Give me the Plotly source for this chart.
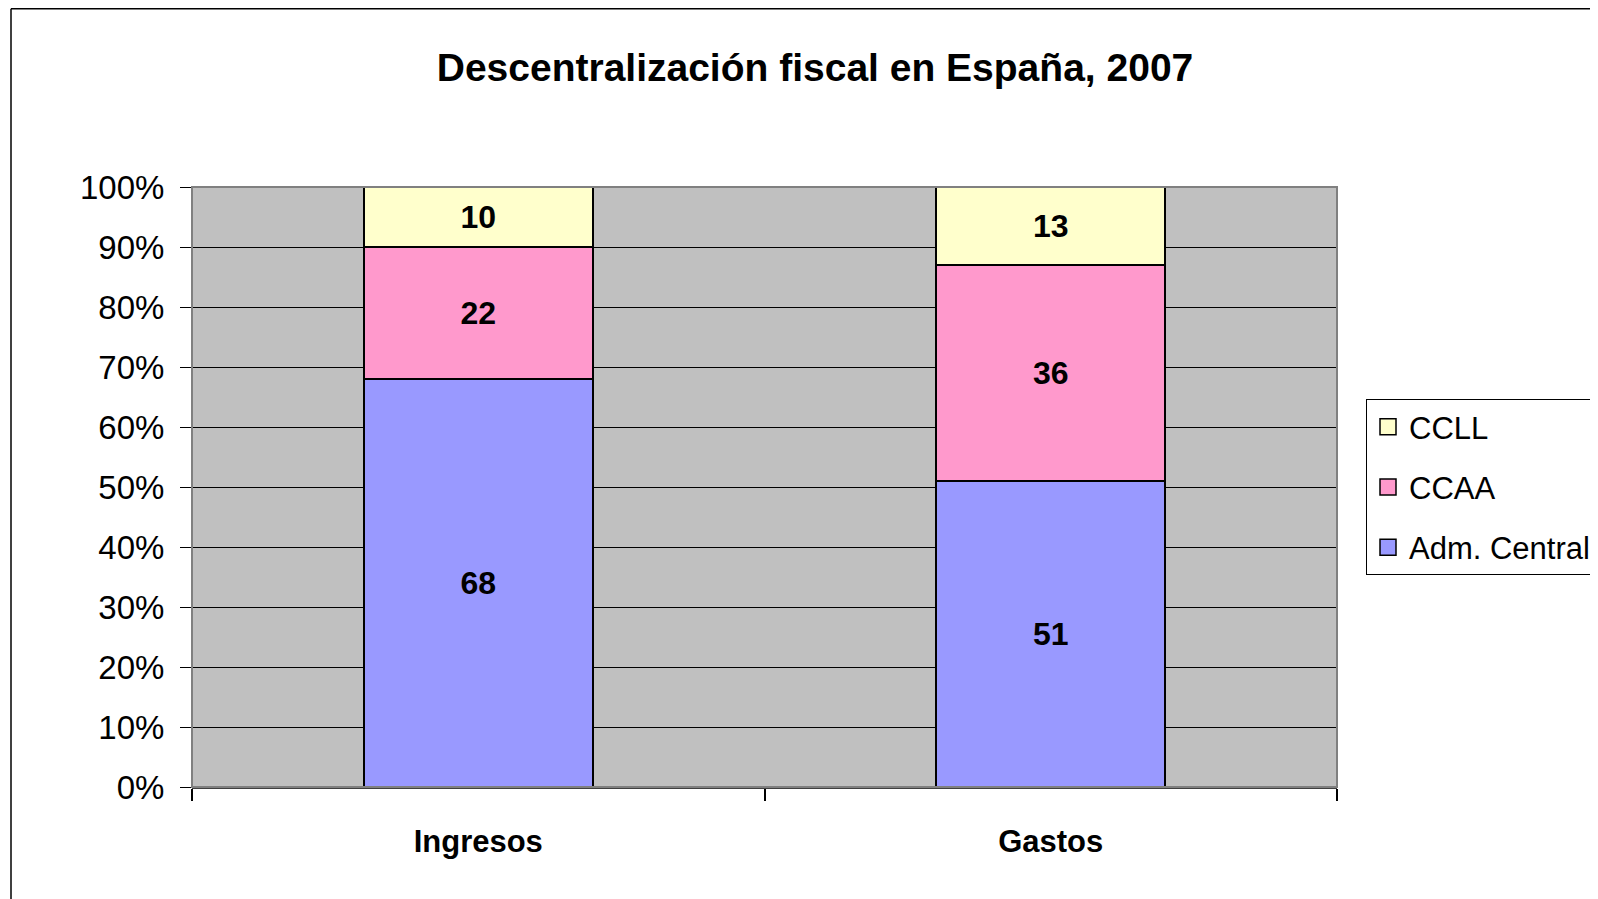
import plotly.graph_objects as go

categories = ["Ingresos", "Gastos"]
adm_central = [68, 51]
ccaa = [22, 36]
ccll = [10, 13]
series_names = ["Adm. Central", "CCAA", "CCLL"]
series_colors = ["#9999FF", "#FF99CC", "#FFFFCC"]
y_ticks = [0, 10, 20, 30, 40, 50, 60, 70, 80, 90, 100]
y_tick_labels = [f"{v}%" for v in y_ticks]

FONT = "Liberation Sans, Arial, sans-serif"

# page body has an 8px margin: work in figure pixel coordinates
O = 8
W, H = 1598 - O, 899 - O
L, R, T, B = 192 - O, 1337 - O, 186.5 - O, 787 - O
pw, ph = R - L, B - T


def px(x):
    return (x - O - L) / pw


def py(y):
    return (B - (y - O)) / ph


fig = go.Figure()
for name, vals, col in zip(series_names, [adm_central, ccaa, ccll], series_colors):
    fig.add_trace(go.Bar(
        x=categories, y=vals, name=name,
        marker=dict(color=col, line=dict(color="black", width=2)),
        text=[str(v) for v in vals], textposition="inside",
        insidetextanchor="middle", constraintext="none",
        textfont=dict(family=FONT, size=32, color="black", weight="bold"),
        showlegend=False,
    ))

# legend entries with larger square swatches (CCLL on top)
for name, col in reversed(list(zip(series_names, series_colors))):
    fig.add_trace(go.Scatter(
        x=[None], y=[None], mode="markers", name=name,
        marker=dict(symbol="square", size=17, color=col,
                    line=dict(color="black", width=1.5)),
        legendgroup=name, showlegend=True,
    ))

fig.update_layout(
    width=W, height=H,
    margin=dict(l=L, r=W - R, t=T, b=H - B, pad=0, autoexpand=False),
    barmode="stack", bargap=0.6,
    paper_bgcolor="white", plot_bgcolor="#C0C0C0",
    font=dict(family=FONT, color="black"),
    title=dict(text="<b>Descentralización fiscal en España, 2007</b>",
               font=dict(family=FONT, size=39, color="black"),
               x=(815 - O) / W, xref="container", xanchor="center",
               y=1 - (67 - O) / H, yref="container", yanchor="middle"),
    showlegend=True,
    legend=dict(x=(1366 - O) / W, y=1 - (399 - O) / H,
                xref="container", yref="container",
                xanchor="left", yanchor="top",
                traceorder="grouped", tracegroupgap=17, itemwidth=32,
                bgcolor="white", bordercolor="black", borderwidth=1,
                font=dict(family=FONT, size=31, color="black")),
    shapes=[
        dict(type="rect", xref="paper", yref="paper", x0=0, x1=1, y0=0, y1=1,
             line=dict(color="#808080", width=2), layer="above"),
        dict(type="line", xref="paper", yref="paper", x0=px(11), x1=px(11),
             y0=py(8), y1=py(899), line=dict(color="black", width=1.5)),
        dict(type="line", xref="paper", yref="paper", x0=px(11), x1=px(1610),
             y0=py(8), y1=py(8), line=dict(color="black", width=1.5)),
    ],
)

fig.update_yaxes(range=[0, 100], tickvals=y_ticks, ticktext=y_tick_labels,
                 showgrid=True, gridcolor="black", gridwidth=1,
                 ticks="outside", ticklen=11, tickcolor="black", tickwidth=1,
                 ticklabelstandoff=9,
                 tickfont=dict(family=FONT, size=33, color="black"),
                 zeroline=False, showline=False, fixedrange=True)
fig.update_xaxes(tickson="boundaries", ticks="outside", ticklen=12,
                 tickcolor="black", tickwidth=1.5,
                 showline=True, linecolor="#404040", linewidth=2,
                 tickfont=dict(family=FONT, size=31, color="black", weight="bold"),
                 ticklabelstandoff=26, showgrid=False, fixedrange=True)

fig.write_html("out.html")
